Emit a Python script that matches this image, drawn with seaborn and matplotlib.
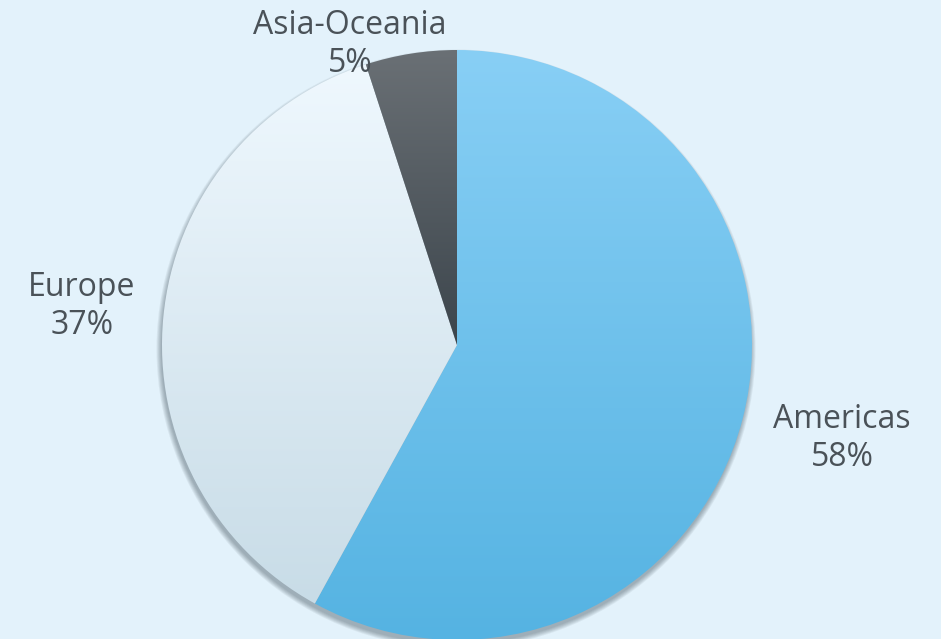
import numpy as np
import seaborn as sns
import matplotlib.pyplot as plt
from matplotlib.colors import LinearSegmentedColormap
from matplotlib.patches import Circle

# data
regions = ['Americas', 'Europe', 'Asia-Oceania']
shares = [58, 37, 5]
tops = ['#88cff5', '#eff8fe', '#6a7075']
bottoms = ['#55b3e2', '#c8dce7', '#3c454c']

bg = '#e3f2fb'
text_col = '#4a5258'

sns.set_theme(style='white')
plt.rcParams['font.family'] = ['Open Sans', 'DejaVu Sans']

fig = plt.figure(figsize=(9.41, 6.39), dpi=100, facecolor=bg)
ax = fig.add_axes([0, 0, 1, 1])
ax.set_facecolor(bg)

cx, cy, r = 457, 294, 295

# soft shadow under the pie
for i in range(6):
    ax.add_patch(Circle((cx - 1, cy - 4), r + i * 0.9, color='#2a3a44',
                        alpha=0.07, lw=0, zorder=1))

wedges, _ = ax.pie(shares, startangle=90, counterclock=False, center=(cx, cy),
                   radius=r, wedgeprops=dict(linewidth=0, alpha=0), frame=True)
ax.set_xlim(0, 941)
ax.set_ylim(0, 639)
ax.set_aspect('equal')
ax.axis('off')

# vertical gradient fill for each slice
for w, c0, c1 in zip(wedges, tops, bottoms):
    ext = w.get_path().get_extents()
    cmap = LinearSegmentedColormap.from_list('g', [c1, c0])
    grad = np.linspace(0, 1, 256).reshape(-1, 1)
    im = ax.imshow(grad, cmap=cmap, aspect='auto', origin='lower',
                   extent=[ext.x0, ext.x1, ext.y0, ext.y1], zorder=2)
    im.set_clip_path(w)

# labels
label_pos = [(842, 639 - 438), (82, 639 - 307), (350, 639 - 44)]
for name, val, (lx, ly) in zip(regions, shares, label_pos):
    ax.text(lx, ly, f'{name}\n{val}%', ha='center', va='center', fontsize=23,
            color=text_col, linespacing=1.2, zorder=5)

fig.savefig('out.png', dpi=100, facecolor=bg)
